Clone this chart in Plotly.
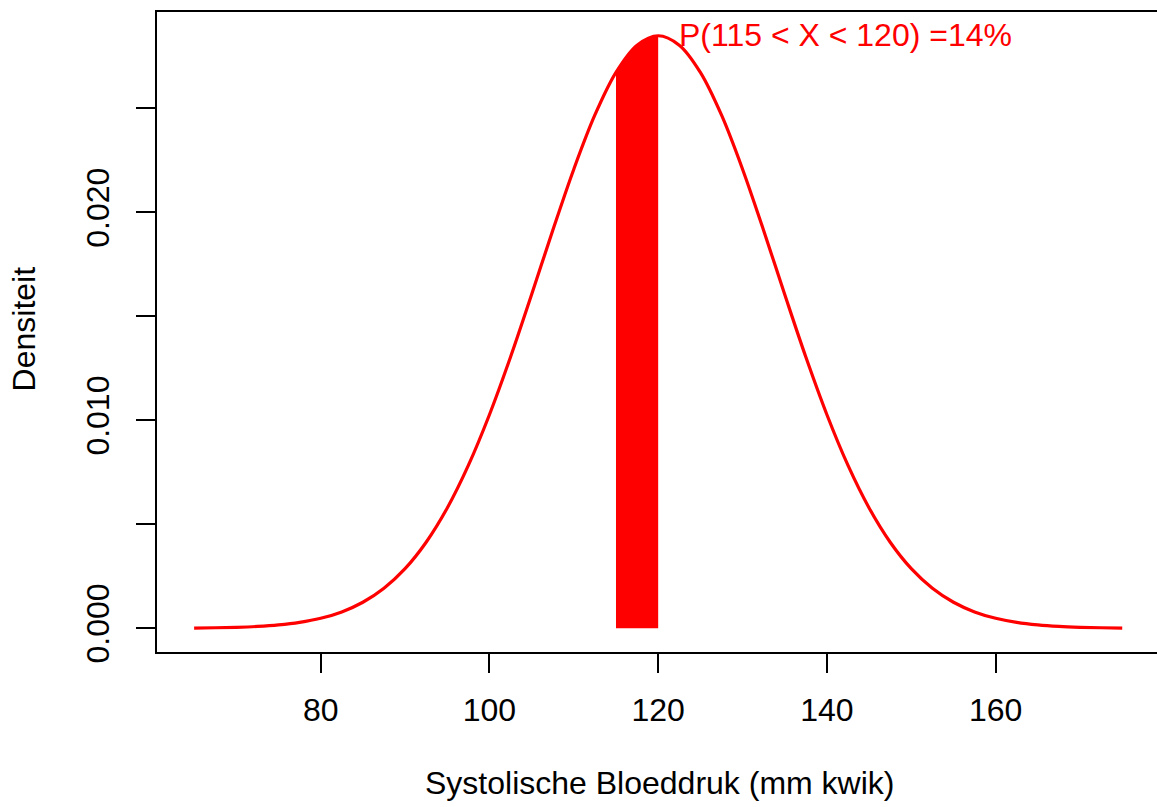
import plotly.graph_objects as go

# Density curve values (systolic blood pressure, mm Hg)
bp_x = [65, 67.5, 70, 72.5, 75, 77.5, 80, 82.5, 85, 87.5, 90, 92.5, 95, 97.5,
        100, 102.5, 105, 107.5, 110, 112.5, 115, 117.5, 120, 122.5, 125, 127.5,
        130, 132.5, 135, 137.5, 140, 142.5, 145, 147.5, 150, 152.5, 155, 157.5,
        160, 162.5, 165, 167.5, 170, 172.5, 175]
density = [0.0000127, 0.0000252, 0.0000484, 0.0000902, 0.000163, 0.000284, 0.000481,
           0.000789, 0.001252, 0.001926, 0.002869, 0.004140, 0.005786, 0.007834,
           0.010272, 0.013047, 0.016052, 0.019129, 0.022080, 0.024688, 0.026737,
           0.028046, 0.028497, 0.028046, 0.026737, 0.024688, 0.022080, 0.019129,
           0.016052, 0.013047, 0.010272, 0.007834, 0.005786, 0.004140, 0.002869,
           0.001926, 0.001252, 0.000789, 0.000481, 0.000284, 0.000163, 0.0000902,
           0.0000484, 0.0000252, 0.0000127]

# Shaded interval 115 - 120
shade_x = [115, 116.25, 117.5, 118.75, 120]
shade_y = [0.026737, 0.027493, 0.028046, 0.028384, 0.028497]

x_ticks = [80, 100, 120, 140, 160]
y_ticks = [0.000, 0.005, 0.010, 0.015, 0.020, 0.025]
y_ticktext = ["0.000", "", "0.010", "", "0.020", ""]

label_text = "P(115 < X < 120) =14%"
x_title = "Systolische Bloeddruk (mm kwik)"
y_title = "Densiteit"

FONT = "Liberation Sans, Arial, sans-serif"
FS = 32

fig = go.Figure()
fig.add_trace(go.Scatter(x=shade_x, y=shade_y, mode="lines", fill="tozeroy",
                         fillcolor="#FF0000", line=dict(color="#FF0000", width=1, shape="spline"),
                         hoverinfo="skip", showlegend=False))
fig.add_trace(go.Scatter(x=bp_x, y=density, mode="lines",
                         line=dict(color="#FF0000", width=3.2, shape="spline"),
                         showlegend=False))

fig.add_annotation(x=120, y=max(density), text=label_text, showarrow=False,
                   xanchor="left", yanchor="middle", xshift=19, yshift=1,
                   font=dict(family=FONT, size=FS, color="#FF0000"))
fig.add_annotation(xref="paper", yref="paper", x=(659 - 157) / 1000, y=(651.7 - 783) / 640.2,
                   text=x_title, showarrow=False, xanchor="center", yanchor="middle",
                   font=dict(family=FONT, size=FS, color="black"))
fig.add_annotation(xref="paper", yref="paper", x=(24 - 157) / 1000, y=(651.7 - 329) / 640.2,
                   text=y_title, showarrow=False, xanchor="center", yanchor="middle",
                   textangle=-90, font=dict(family=FONT, size=FS, color="black"))

fig.update_layout(
    width=1157, height=807,
    margin=dict(l=157, r=0, t=11.5, b=155.3, pad=0),
    paper_bgcolor="white", plot_bgcolor="white",
    font=dict(family=FONT, size=FS, color="black"),
    showlegend=False,
)
fig.update_xaxes(range=[60.6, 179.12], tickvals=x_ticks, ticks="outside", ticklen=19,
                 tickwidth=2, tickcolor="black", showline=True, linecolor="black",
                 linewidth=2, mirror=True, showgrid=False, zeroline=False,
                 tickfont=dict(family=FONT, size=FS, color="black"), ticklabelstandoff=10)
fig.update_yaxes(range=[-0.00114, 0.02964], tickvals=y_ticks, ticktext=y_ticktext,
                 ticks="outside", ticklen=19, tickwidth=2, tickcolor="black",
                 showline=True, linecolor="black", linewidth=2, showgrid=False,
                 zeroline=False, tickangle=-90,
                 tickfont=dict(family=FONT, size=FS, color="black"), ticklabelstandoff=14)

fig.write_html("out.html")
